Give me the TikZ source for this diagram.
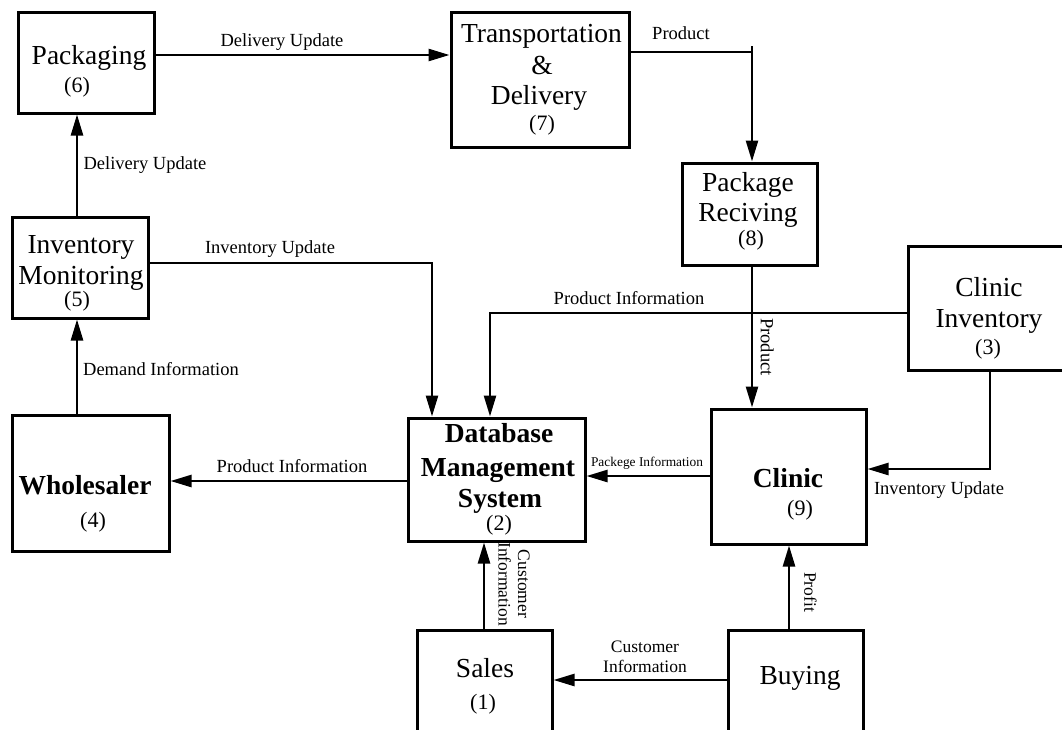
\documentclass[tikz,border=0pt]{standalone}
\usepackage{fontspec}
\setmainfont{Liberation Serif}
\usetikzlibrary{arrows.meta}
\begin{document}
\begin{tikzpicture}[x=1pt,y=-1pt,
  box/.style={draw, line width=3pt, rectangle, inner sep=0pt},
  conn/.style={line width=2.5pt},
  arr/.style={conn, -{Triangle[length=21pt,width=12pt]}},
  ttl/.style={inner sep=0pt, font=\fontsize{27.5}{30}\selectfont, text height=18.2pt, text depth=0pt},
  ttlb/.style={inner sep=0pt, font=\fontsize{27.5}{30}\selectfont\bfseries, text height=18.2pt, text depth=0pt},
  num/.style={inner sep=0pt, font=\fontsize{22}{24}\selectfont, text height=14.5pt, text depth=0pt},
  lbl/.style={inner sep=0pt, font=\fontsize{18.5}{20}\selectfont, text height=12.2pt, text depth=0pt},
  lbltwo/.style={inner sep=0pt, align=center, font=\fontsize{17.5}{19.5}\selectfont},
]
\useasboundingbox (0,0) rectangle (1062,729);
\fill[white] (0,0) rectangle (1062,729);
\clip (0,0) rectangle (1062,729);

% boxes
\node[box, minimum width=136pt, minimum height=101pt] (pack) at (86,62.5) {};
\node[box, minimum width=178pt, minimum height=135pt] (trans) at (540,79.5) {};
\node[box, minimum width=135pt, minimum height=102pt] (recv) at (749.5,214) {};
\node[box, minimum width=192pt, minimum height=124pt] (cinv) at (1004,308) {};
\node[box, minimum width=136pt, minimum height=101pt] (invmon) at (80,267.5) {};
\node[box, minimum width=157pt, minimum height=136pt] (whole) at (90.5,483) {};
\node[box, minimum width=177pt, minimum height=123pt] (dbms) at (496.5,479.5) {};
\node[box, minimum width=155pt, minimum height=135pt] (clinic) at (788.5,476.5) {};
\node[box, minimum width=135pt, minimum height=130pt] (sales) at (484.5,695) {};
\node[box, minimum width=135pt, minimum height=130pt] (buy) at (795.5,695) {};

% box texts
\node[ttl] (t6a) at (89,55) {Packaging};
\node[num] (t6b) at (77,85) {(6)};
\node[ttl] (t7a) at (541.5,33) {Transportation};
\node[ttl] (t7b) at (542,65) {\&};
\node[ttl] (t7c) at (539,95) {Delivery};
\node[num] (t7d) at (542,123) {(7)};
\node[ttl] (t8a) at (748,182) {Package};
\node[ttl] (t8b) at (748,212) {Reciving};
\node[num] (t8c) at (751,238) {(8)};
\node[ttl] (t3a) at (989,287) {Clinic};
\node[ttl] (t3b) at (989,318) {Inventory};
\node[num] (t3c) at (988,347) {(3)};
\node[ttl] (t5a) at (81,244) {Inventory};
\node[ttl] (t5b) at (81,275) {Monitoring};
\node[num] (t5c) at (77,299) {(5)};
\node[ttlb] (t4a) at (85,485) {Wholesaler};
\node[num] (t4b) at (93,520) {(4)};
\node[ttlb] (t2a) at (499,433) {Database};
\node[ttlb] (t2b) at (498,467) {Management};
\node[ttlb] (t2c) at (500,498) {System};
\node[num] (t2d) at (499,523) {(2)};
\node[ttlb] (t9a) at (788,478) {Clinic};
\node[num] (t9b) at (800,508) {(9)};
\node[ttl] (t1a) at (485,668) {Sales};
\node[num] (t1b) at (483,702) {(1)};
\node[ttl] (tba) at (800,675) {Buying};

% connectors
\draw[arr] (pack.east |- 0,55) -- (trans.west |- 0,55);
\draw[arr] (trans.east |- 0,52) -| (recv.north -| 752,0);
\coordinate (ticka) at (752,46);
\coordinate (tickb) at (752,53);
\draw[conn] (ticka) -- (tickb);
\draw[arr] (recv.south -| 752,0) -- (clinic.north -| 752,0);
\draw[arr] (cinv.west |- 0,313) -| (dbms.north -| 490,0);
\draw[arr] (cinv.south -| 990,0) |- (clinic.east |- 0,469);
\draw[arr] (clinic.west |- 0,476) -- (dbms.east |- 0,476);
\draw[arr] (dbms.west |- 0,481) -- (whole.east |- 0,481);
\draw[arr] (whole.north -| 77,0) -- (invmon.south -| 77,0);
\draw[arr] (invmon.north -| 77,0) -- (pack.south -| 77,0);
\draw[arr] (invmon.east |- 0,263) -| (dbms.north -| 432,0);
\draw[arr] (sales.north -| 484,0) -- (dbms.south -| 484,0);
\draw[arr] (buy.north -| 789,0) -- (clinic.south -| 789,0);
\draw[arr] (buy.west |- 0,680) -- (sales.east |- 0,680);

% connector labels
\node[lbl] (l1) at (282,40) {Delivery Update};
\node[lbl] (l2) at (145,163) {Delivery Update};
\node[lbl] (l3) at (681,33) {Product};
\node[lbl] (l4) at (270,247) {Inventory Update};
\node[lbl] (l5) at (161,369) {Demand Information};
\node[lbl] (l6) at (292,466) {Product Information};
\node[lbl] (l7) at (629,298) {Product Information};
\node[lbl, rotate=-90] (l8) at (767,347) {Product};
\node[inner sep=0pt, font=\fontsize{13.4}{15}\selectfont, text height=8.8pt, text depth=0pt] (l9) at (647,462) {Packege Information};
\node[lbl] (l10) at (939,488) {Inventory Update};
\node[lbltwo, rotate=-90] (l11) at (514,584) {Customer\\Information};
\node[inner sep=0pt, font=\fontsize{17.5}{19}\selectfont, text height=11.5pt, text depth=0pt, rotate=-90] (l12) at (810,592) {Profit};
\node[lbltwo] (l13) at (645,657) {Customer\\Information};
\end{tikzpicture}
\end{document}
